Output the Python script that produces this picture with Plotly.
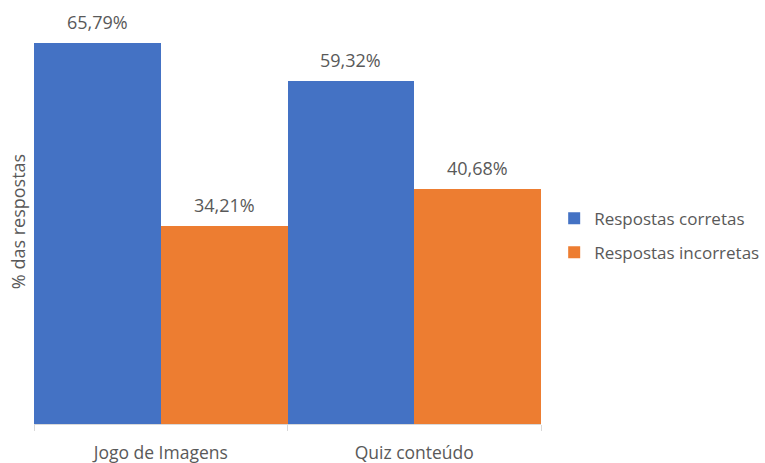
import plotly.graph_objects as go

categories = ["Jogo de Imagens", "Quiz conteúdo"]
corretas = [65.79, 59.32]
incorretas = [34.21, 40.68]
series_names = ["Respostas corretas", "Respostas incorretas"]
colors = ["#4472C4", "#ED7D31"]
text_color = "#595959"
font_family = "Open Sans, Liberation Sans, sans-serif"

fig = go.Figure()
series_values = [corretas, incorretas]
for i, (name, vals) in enumerate(zip(series_names, series_values)):
    fig.add_trace(go.Bar(
        x=categories, y=vals, name=name,
        marker=dict(color=colors[i], line=dict(width=0)),
        legendgroup=name, hoverinfo="x+y+name",
    ))

# data labels above bars
bar_half = 63.4
for i, vals in enumerate(series_values):
    for cat, v in zip(categories, vals):
        fig.add_annotation(
            x=cat, y=v, xref="x", yref="y",
            text=f"{v:.2f}%".replace(".", ","),
            showarrow=False, yanchor="middle", xanchor="center",
            xshift=(-bar_half if i == 0 else bar_half), yshift=21,
            font=dict(size=18, color=text_color, family=font_family),
        )

fig.update_layout(
    width=765, height=463,
    margin=dict(l=34, r=224, t=19, b=39, autoexpand=False),
    barmode="group", bargap=0, bargroupgap=0,
    separators=",.",
    plot_bgcolor="white", paper_bgcolor="white",
    font=dict(family=font_family, size=16, color=text_color),
    showlegend=True,
    legend=dict(x=1.026, xanchor="left", y=0.465, yanchor="middle",
                traceorder="grouped", tracegroupgap=9,
                font=dict(size=17, color=text_color)),
    xaxis=dict(showline=True, linecolor="#D9D9D9", linewidth=1, automargin=False,
               ticks="outside", tickson="boundaries", ticklen=6, tickcolor="#D9D9D9",
               ticklabelstandoff=13,
               tickfont=dict(size=17.5, color=text_color)),
    yaxis=dict(range=[0, 70], showticklabels=False, showgrid=False, zeroline=False,
               showline=False, ticks="", automargin=False,
               title=dict(text="% das respostas", standoff=2,
                          font=dict(size=18, color=text_color))),
)

fig.write_html("out.html", config={"displayModeBar": False},
               post_script="document.body.style.margin='0';document.body.style.overflow='hidden';")
